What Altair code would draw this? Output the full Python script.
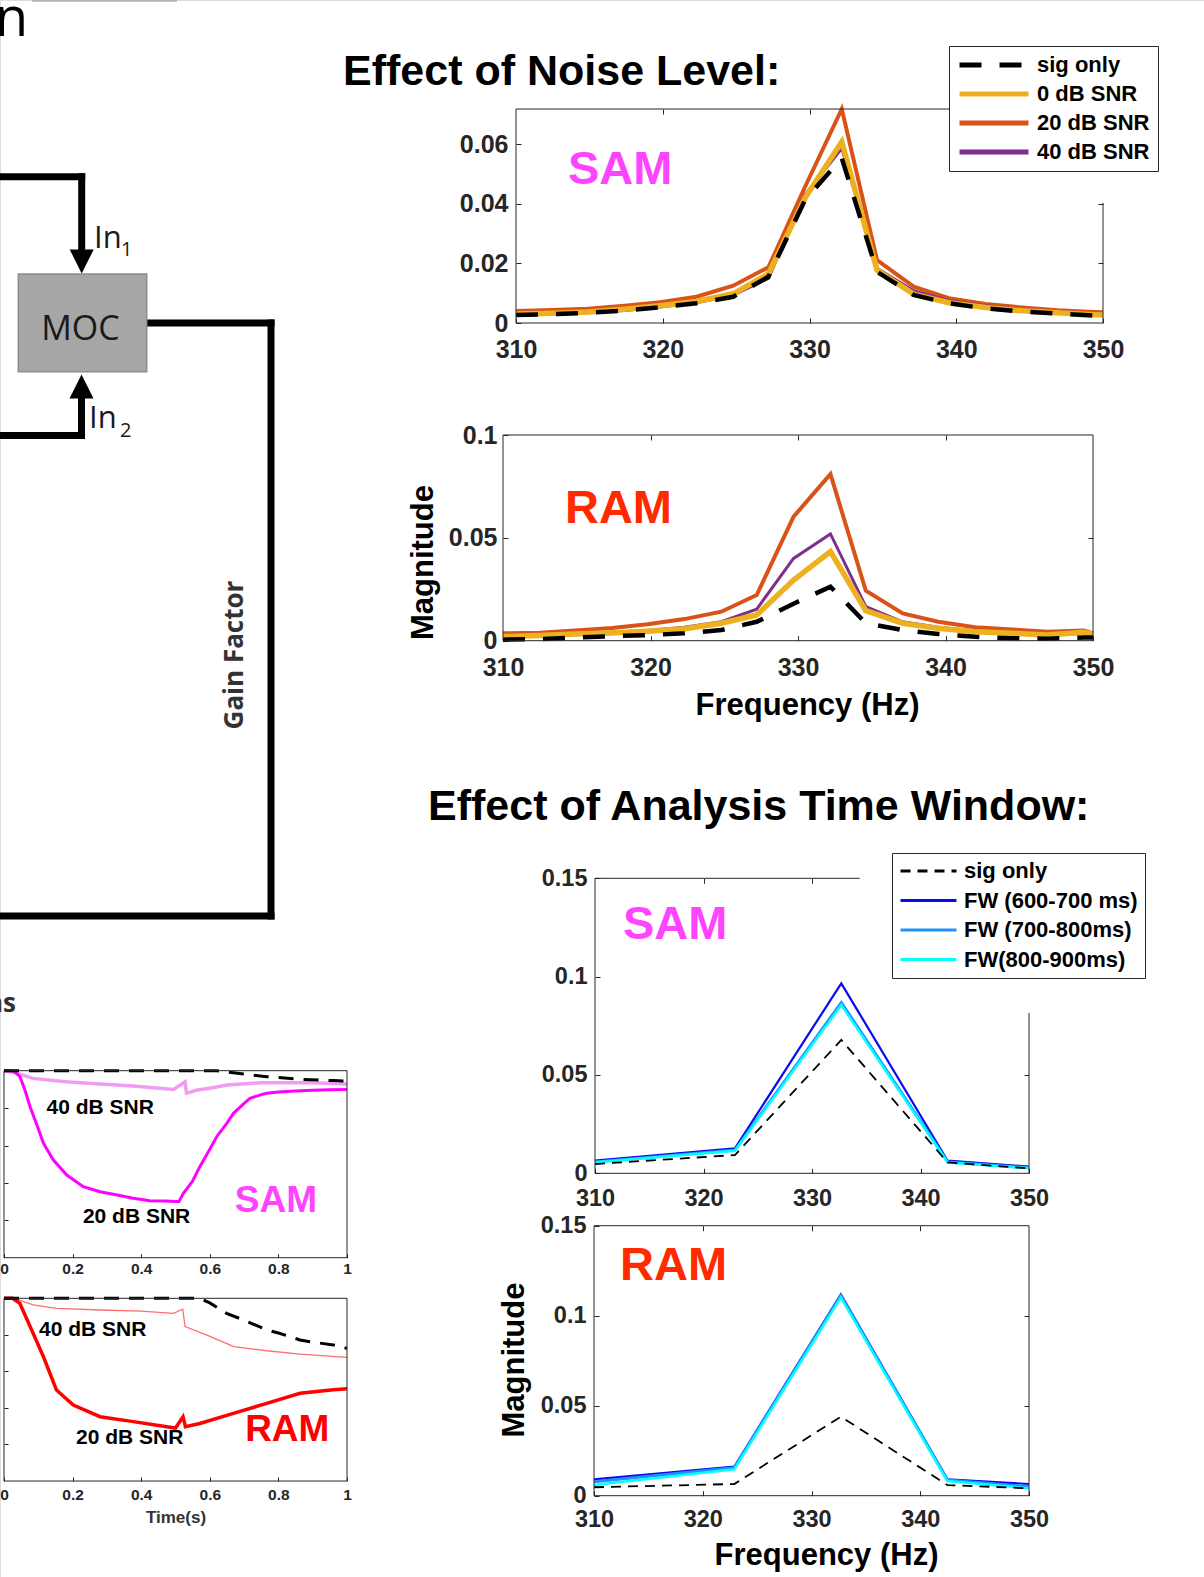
import altair as alt
import pandas as pd

W, H = 1204, 1577
AX = '#262626'
FONT = 'Liberation Sans'
DFONT = 'Open Sans'

# ---------------- Effect of Noise Level ----------------
FREQ_NOISE = [310.0, 312.5, 314.9, 317.4, 319.8, 322.3, 324.8, 327.2, 329.7,
              332.2, 334.6, 337.1, 339.5, 342.0, 344.5, 346.9, 349.4, 350.0]
NOISE_NAMES = ['sig only', '0 dB SNR', '20 dB SNR', '40 dB SNR']

SAM_SIG = [0.0027, 0.0030, 0.0034, 0.0042, 0.0053, 0.0066, 0.0088, 0.0155, 0.0413,
           0.0553, 0.0172, 0.0094, 0.0066, 0.0049, 0.0038, 0.0032, 0.0025, 0.0024]
SAM_0DB = [0.0030, 0.0033, 0.0037, 0.0046, 0.0058, 0.0072, 0.0098, 0.0165, 0.0420,
           0.0608, 0.0178, 0.0097, 0.0068, 0.0052, 0.0041, 0.0034, 0.0028, 0.0027]
SAM_20DB = [0.0040, 0.0044, 0.0048, 0.0058, 0.0070, 0.0088, 0.0125, 0.0187, 0.0457,
            0.0718, 0.0211, 0.0122, 0.0083, 0.0064, 0.0052, 0.0043, 0.0037, 0.0036]
SAM_40DB = [0.0026, 0.0030, 0.0034, 0.0042, 0.0054, 0.0068, 0.0094, 0.0150, 0.0430,
            0.0586, 0.0184, 0.0108, 0.0075, 0.0058, 0.0045, 0.0038, 0.0031, 0.0030]

RAM_SIG = [0.0005, 0.0008, 0.0016, 0.0022, 0.0027, 0.0036, 0.0052, 0.0092, 0.0180,
           0.0263, 0.0085, 0.0052, 0.0033, 0.0019, 0.0012, 0.0010, 0.0016, 0.0015]
RAM_0DB = [0.0020, 0.0025, 0.0033, 0.0038, 0.0046, 0.0058, 0.0085, 0.0125, 0.0295,
           0.0433, 0.0146, 0.0085, 0.0060, 0.0044, 0.0036, 0.0028, 0.0041, 0.0030]
RAM_20DB = [0.0036, 0.0039, 0.0050, 0.0062, 0.0080, 0.0105, 0.0141, 0.0222, 0.0603,
            0.0810, 0.0243, 0.0133, 0.0092, 0.0065, 0.0055, 0.0044, 0.0049, 0.0036]
RAM_40DB = [0.0024, 0.0027, 0.0035, 0.0041, 0.0050, 0.0065, 0.0092, 0.0153, 0.0400,
            0.0519, 0.0166, 0.0092, 0.0066, 0.0048, 0.0038, 0.0030, 0.0035, 0.0022]

# ---------------- Effect of Analysis Time Window ----------------
FREQ_WIN = [310.0, 322.9, 332.7, 342.5, 350.0]
WIN_NAMES = ['sig only', 'FW (600-700 ms)', 'FW (700-800ms)', 'FW(800-900ms)']

WSAM_SIG = [0.0047, 0.0093, 0.0678, 0.0055, 0.0025]
WSAM_FW1 = [0.0064, 0.0127, 0.0966, 0.0064, 0.0034]
WSAM_FW2 = [0.0058, 0.0118, 0.0868, 0.0058, 0.0028]
WSAM_FW3 = [0.0056, 0.0115, 0.0856, 0.0055, 0.0026]

WRAM_SIG = [0.0047, 0.0065, 0.0439, 0.0059, 0.0041]
WRAM_FW1 = [0.0091, 0.0161, 0.1119, 0.0091, 0.0065]
WRAM_FW2 = [0.0078, 0.0156, 0.1111, 0.0087, 0.0050]
WRAM_FW3 = [0.0059, 0.0147, 0.1102, 0.0081, 0.0041]

# ---------------- Gain factor over time ----------------
E_T_20 = [0.0, 0.02, 0.03, 0.046, 0.061, 0.076, 0.1, 0.115, 0.144, 0.183, 0.231, 0.28,
          0.33, 0.377, 0.425, 0.47, 0.5, 0.51, 0.523, 0.55, 0.571, 0.6, 0.62, 0.65,
          0.669, 0.7, 0.717, 0.75, 0.766, 0.8, 0.85, 0.9, 0.95, 1.0]
E_V_20 = [1.0, 1.0, 0.995, 0.97, 0.897, 0.807, 0.69, 0.612, 0.522, 0.442, 0.38, 0.353,
          0.335, 0.318, 0.305, 0.303, 0.30, 0.30, 0.344, 0.41, 0.487, 0.58, 0.647, 0.72,
          0.772, 0.825, 0.852, 0.872, 0.879, 0.886, 0.892, 0.896, 0.898, 0.90]
E_T_40 = [0.0, 0.03, 0.085, 0.18, 0.28, 0.377, 0.494, 0.528, 0.532, 0.56, 0.6, 0.65, 0.75, 0.9, 1.0]
E_V_40 = [1.0, 0.99, 0.959, 0.941, 0.929, 0.918, 0.90, 0.941, 0.879, 0.895, 0.906, 0.924, 0.936, 0.936, 0.929]
E_T_SIG = [0.0, 0.62, 0.669, 0.766, 0.863, 0.96, 1.0]
E_V_SIG = [1.0, 1.0, 0.989, 0.968, 0.954, 0.947, 0.945]

F_T_20 = [0.0, 0.025, 0.046, 0.085, 0.115, 0.153, 0.202, 0.28, 0.377, 0.474, 0.5, 0.522,
          0.529, 0.571, 0.669, 0.766, 0.863, 0.96, 1.0]
F_V_20 = [1.0, 1.0, 0.973, 0.808, 0.68, 0.498, 0.416, 0.352, 0.325, 0.297, 0.29, 0.352,
          0.297, 0.315, 0.37, 0.425, 0.48, 0.50, 0.505]
F_T_40 = [0.0, 0.03, 0.085, 0.153, 0.28, 0.4, 0.494, 0.521, 0.528, 0.59, 0.67, 0.766, 0.863, 1.0]
F_V_40 = [1.0, 1.0, 0.964, 0.945, 0.936, 0.93, 0.918, 0.94, 0.845, 0.80, 0.735, 0.713, 0.695, 0.677]
F_T_SIG = [0.0, 0.57, 0.6, 0.649, 0.7, 0.766, 0.8, 0.863, 0.9, 0.96, 1.0]
F_V_SIG = [1.0, 1.0, 0.975, 0.918, 0.88, 0.827, 0.81, 0.772, 0.76, 0.745, 0.726]

# ---------------- schematic (diagram) ----------------
DIAGRAM_WIRES = [(-10, 176.7, 81.7, 176.7), (81.7, 176.7, 81.7, 251),
                 (146.7, 323, 271, 323), (271, 323, 271, 916), (271, 916, -10, 916),
                 (-10, 435.5, 81.5, 435.5), (81.5, 435.5, 81.5, 397)]
MOC_BOX = [(18.3, 274, 146.7, 371.7)]
ARROW_DOWN = [(81.7, 261.5)]
ARROW_UP = [(81.5, 386.5)]

# ---------------- styles ----------------
NOISE_STYLE = {'sig only': dict(c='#000000', w=4.5, d=[22, 18]),
               '0 dB SNR': dict(c='#EDB120', w=5.5),
               '20 dB SNR': dict(c='#D95319', w=4),
               '40 dB SNR': dict(c='#7E2F8E', w=3)}
NOISE_ORDER = ['20 dB SNR', '40 dB SNR', '0 dB SNR', 'sig only']
WIN_STYLE = {'sig only': dict(c='#000000', w=1.8, d=[10, 7]),
             'FW (600-700 ms)': dict(c='#0A0AF0', w=2.2),
             'FW (700-800ms)': dict(c='#1E90FF', w=3),
             'FW(800-900ms)': dict(c='#00FFFF', w=2.5)}
WIN_ORDER = ['FW (600-700 ms)', 'FW (700-800ms)', 'FW(800-900ms)', 'sig only']

NUM_LABEL = "format(datum.value, '.2~f')"


def mk_axis(orient, values, offset, ts, labels=True, fs=None, pad=None, expr=None, **extra):
    d = dict(orient=orient, values=values, offset=offset, tickSize=ts, ticks=True,
             tickColor=AX, tickWidth=1, domain=False, grid=False, labels=labels, title=None)
    if labels:
        d.update(labelFont=FONT, labelFontSize=fs, labelFontWeight='bold',
                 labelColor=AX, labelPadding=pad, labelFlush=False, labelOverlap=False,
                 labelExpr=expr or NUM_LABEL)
    d.update(extra)
    return alt.Axis(**d)


def offsets(xr, yr, ts):
    return dict(b=(yr[0] - ts) - H, l=-(xr[0] + ts), t=-(yr[1] + ts), r=(xr[1] - ts) - W)


def legend(x, y, pad, rowpad, symlen, symw):
    return alt.Legend(orient='none', legendX=x, legendY=y, title=None, padding=pad,
                      rowPadding=rowpad, clipHeight=22, symbolType='stroke',
                      symbolSize=symlen * symlen, symbolStrokeWidth=symw,
                      labelFont=FONT, labelFontSize=22, labelFontWeight='bold',
                      labelColor='black', labelOffset=6, labelLimit=400,
                      strokeColor=AX, fillColor='white')


def panel(xdom, xr, ydom, yr, series, names, styles, order, leg,
          ax_b, ax_l, ax_t, ax_r, frame, texts):
    xsc = alt.Scale(domain=xdom, range=xr, nice=False, zero=False)
    ysc = alt.Scale(domain=ydom, range=yr, nice=False, zero=False)
    out = []
    for i, name in enumerate(order):
        xs, ys = series[name]
        df = pd.DataFrame({'x': xs, 'y': ys, 's': name})
        st = styles[name]
        x = alt.X('x:Q', scale=xsc, axis=ax_b if i == 0 else None)
        y = alt.Y('y:Q', scale=ysc, axis=ax_l if i == 0 else None)
        if leg is not None and i == len(order) - 1:
            ch = alt.Chart(df).mark_line(strokeWidth=st['w'], strokeCap='butt').encode(
                x=x, y=y,
                color=alt.Color('s:N', scale=alt.Scale(domain=names, range=[styles[n]['c'] for n in names]),
                                legend=leg),
                strokeDash=alt.StrokeDash('s:N', scale=alt.Scale(domain=names,
                                          range=[styles[n].get('d', [1, 0]) for n in names]),
                                          legend=leg))
        else:
            mk = dict(strokeWidth=st['w'], color=st['c'], strokeCap='butt')
            if 'd' in st:
                mk['strokeDash'] = st['d']
            ch = alt.Chart(df).mark_line(**mk).encode(x=x, y=y)
        out.append(ch)
    fdf = pd.DataFrame(frame, columns=['x', 'y', 'x2', 'y2'])
    out.append(alt.Chart(fdf).mark_rule(color=AX, strokeWidth=1).encode(
        x=alt.X('x:Q', scale=xsc, axis=ax_t), x2='x2:Q',
        y=alt.Y('y:Q', scale=ysc, axis=ax_r), y2='y2:Q'))
    for t in texts:
        df = pd.DataFrame({'x': [t['x']], 'y': [t['y']], 't': [t['t']]})
        out.append(alt.Chart(df).mark_text(align='left', baseline='middle', font=FONT,
                                           fontWeight='bold', fontSize=t['fs'], color=t['c']).encode(
            x=alt.X('x:Q', scale=xsc, axis=None), y=alt.Y('y:Q', scale=ysc, axis=None), text='t:N'))
    return out


layers = []

# ---------- schematic in page pixels ----------
def pix(df, mark):
    return alt.Chart(df).mark_text(**mark).encode(
        x=alt.X('x:Q', scale=None, axis=None), y=alt.Y('y:Q', scale=None, axis=None), text='t:N')

wires = pd.DataFrame(DIAGRAM_WIRES, columns=['x', 'y', 'x2', 'y2'])
layers.append(alt.Chart(wires).mark_rule(color='black', strokeWidth=7, strokeCap='square').encode(
    x=alt.X('x:Q', scale=None, axis=None), x2='x2:Q', y=alt.Y('y:Q', scale=None, axis=None), y2='y2:Q'))
topbar = pd.DataFrame([(32, 0.8, 177, 0.8)], columns=['x', 'y', 'x2', 'y2'])
layers.append(alt.Chart(topbar).mark_rule(color='#b4b4b4', strokeWidth=2).encode(
    x=alt.X('x:Q', scale=None, axis=None), x2='x2:Q', y=alt.Y('y:Q', scale=None, axis=None), y2='y2:Q'))
box = pd.DataFrame(MOC_BOX, columns=['x', 'y', 'x2', 'y2'])
layers.append(alt.Chart(box).mark_rect(color='#A6A6A6', stroke='#8C8C8C', strokeWidth=1.5).encode(
    x=alt.X('x:Q', scale=None, axis=None), x2='x2:Q', y=alt.Y('y:Q', scale=None, axis=None), y2='y2:Q'))
for pts, shp in [(ARROW_DOWN, 'M-1,-1L1,-1L0,1Z'), (ARROW_UP, 'M-1,1L1,1L0,-1Z')]:
    layers.append(alt.Chart(pd.DataFrame(pts, columns=['x', 'y'])).mark_point(
        shape=shp, size=576, filled=True, opacity=1, color='black', strokeWidth=0).encode(
        x=alt.X('x:Q', scale=None, axis=None), y=alt.Y('y:Q', scale=None, axis=None)))

layers.append(pix(pd.DataFrame({'t': ['MOC'], 'x': [80.5], 'y': [340]}),
                  dict(font=DFONT, fontSize=34, color='#1a1a1a', align='center', baseline='alphabetic')))
layers.append(pix(pd.DataFrame({'t': ['In', 'In'], 'x': [94, 89], 'y': [248.3, 428.3]}),
                  dict(font=DFONT, fontSize=31, color='#1a1a1a', align='left', baseline='alphabetic')))
layers.append(pix(pd.DataFrame({'t': ['1', '2'], 'x': [121, 120], 'y': [256, 436.7]}),
                  dict(font=DFONT, fontSize=20, color='#1a1a1a', align='left', baseline='alphabetic')))
layers.append(pix(pd.DataFrame({'t': ['Gain Factor'], 'x': [243], 'y': [655]}),
                  dict(font=DFONT, fontSize=26, fontWeight='bold', color='#333333', align='center',
                       baseline='alphabetic', angle=270)))
layers.append(pix(pd.DataFrame({'t': ['n'], 'x': [28], 'y': [36]}),
                  dict(font=DFONT, fontSize=54, color='black', align='right', baseline='alphabetic')))
layers.append(pix(pd.DataFrame({'t': ['ns'], 'x': [16], 'y': [1012]}),
                  dict(font=DFONT, fontSize=26, fontWeight='bold', color='#333333', align='right',
                       baseline='alphabetic')))
layers.append(pix(pd.DataFrame({'t': ['Effect of Noise Level:', 'Effect of Analysis Time Window:'],
                                'x': [343, 428], 'y': [85, 819.5]}),
                  dict(font=FONT, fontSize=43, fontWeight='bold', color='black', align='left',
                       baseline='alphabetic')))

# ---------- Panel A: noise, SAM ----------
xr, yr, ts = [516, 1103], [323, 109], 5
o = offsets(xr, yr, ts)
layers += panel([310, 350], xr, [0, 0.0718], yr,
                {'sig only': (FREQ_NOISE, SAM_SIG), '0 dB SNR': (FREQ_NOISE, SAM_0DB),
                 '20 dB SNR': (FREQ_NOISE, SAM_20DB), '40 dB SNR': (FREQ_NOISE, SAM_40DB)},
                NOISE_NAMES, NOISE_STYLE, NOISE_ORDER, legend(949, 46, 8, 7, 69, 5),
                mk_axis('bottom', [310, 320, 330, 340, 350], o['b'], ts, fs=25, pad=14),
                mk_axis('left', [0, 0.02, 0.04, 0.06], o['l'], ts, fs=25, pad=8),
                mk_axis('top', [320, 330], o['t'], ts, labels=False),
                mk_axis('right', [0.02, 0.04], o['r'], ts, labels=False),
                [(310, 0, 350, 0), (310, 0, 310, 0.0718), (310, 0.0718, 341.5, 0.0718), (350, 0, 350, 0.0403)],
                [dict(t='SAM', x=313.54, y=0.0513, fs=47, c='#FF44FF')])

# ---------- Panel B: noise, RAM ----------
xr, yr = [503, 1093], [640.7, 435]
o = offsets(xr, yr, ts)
layers += panel([310, 350], xr, [0, 0.1], yr,
                {'sig only': (FREQ_NOISE, RAM_SIG), '0 dB SNR': (FREQ_NOISE, RAM_0DB),
                 '20 dB SNR': (FREQ_NOISE, RAM_20DB), '40 dB SNR': (FREQ_NOISE, RAM_40DB)},
                NOISE_NAMES, NOISE_STYLE, NOISE_ORDER, None,
                mk_axis('bottom', [310, 320, 330, 340, 350], o['b'], ts, fs=25, pad=15,
                        title='Frequency (Hz)', titleFont=FONT, titleFontSize=31, titleFontWeight='bold',
                        titleColor='black', titleX=807, titleY=78.3, titleAlign='center',
                        titleBaseline='alphabetic'),
                mk_axis('left', [0, 0.05, 0.1], o['l'], ts, fs=25, pad=6,
                        title='Magnitude', titleFont=FONT, titleFontSize=31, titleFontWeight='bold',
                        titleColor='black', titleAngle=270, titleX=-76, titleY=562, titleAlign='center',
                        titleBaseline='alphabetic'),
                mk_axis('top', [320, 330, 340], o['t'], ts, labels=False),
                mk_axis('right', [0.05], o['r'], ts, labels=False),
                [(310, 0, 350, 0), (310, 0, 310, 0.1), (310, 0.1, 350, 0.1), (350, 0, 350, 0.1)],
                [dict(t='RAM', x=314.2, y=0.064, fs=47, c='#FF2A00')])

# ---------- Panel C: window, SAM ----------
xr, yr = [595, 1029], [1173.3, 878.3]
o = offsets(xr, yr, ts)
layers += panel([310, 350], xr, [0, 0.15], yr,
                {'sig only': (FREQ_WIN, WSAM_SIG), 'FW (600-700 ms)': (FREQ_WIN, WSAM_FW1),
                 'FW (700-800ms)': (FREQ_WIN, WSAM_FW2), 'FW(800-900ms)': (FREQ_WIN, WSAM_FW3)},
                WIN_NAMES, WIN_STYLE, WIN_ORDER, legend(892, 853, 7, 7.5, 56, 3),
                mk_axis('bottom', [310, 320, 330, 340, 350], o['b'], ts, fs=23.5, pad=13),
                mk_axis('left', [0, 0.05, 0.1, 0.15], o['l'], ts, fs=23.5, pad=8),
                mk_axis('top', [320, 330], o['t'], ts, labels=False),
                mk_axis('right', [0.05], o['r'], ts, labels=False),
                [(310, 0, 350, 0), (310, 0, 310, 0.15), (310, 0.15, 334.4, 0.15), (350, 0, 350, 0.0815)],
                [dict(t='SAM', x=312.58, y=0.1263, fs=47, c='#FF44FF')])

# ---------- Panel D: window, RAM ----------
xr, yr = [594, 1029], [1495.7, 1225.7]
o = offsets(xr, yr, ts)
layers += panel([310, 350], xr, [0, 0.15], yr,
                {'sig only': (FREQ_WIN, WRAM_SIG), 'FW (600-700 ms)': (FREQ_WIN, WRAM_FW1),
                 'FW (700-800ms)': (FREQ_WIN, WRAM_FW2), 'FW(800-900ms)': (FREQ_WIN, WRAM_FW3)},
                WIN_NAMES, WIN_STYLE, WIN_ORDER, None,
                mk_axis('bottom', [310, 320, 330, 340, 350], o['b'], ts, fs=23.5, pad=11.5,
                        title='Frequency (Hz)', titleFont=FONT, titleFontSize=31, titleFontWeight='bold',
                        titleColor='black', titleX=826, titleY=73.3, titleAlign='center',
                        titleBaseline='alphabetic'),
                mk_axis('left', [0, 0.05, 0.1, 0.15], o['l'], ts, fs=23.5, pad=8,
                        title='Magnitude', titleFont=FONT, titleFontSize=31, titleFontWeight='bold',
                        titleColor='black', titleAngle=270, titleX=-76, titleY=1359.5, titleAlign='center',
                        titleBaseline='alphabetic'),
                mk_axis('top', [320, 330, 340], o['t'], ts, labels=False),
                mk_axis('right', [0.05, 0.1], o['r'], ts, labels=False),
                [(310, 0, 350, 0), (310, 0, 310, 0.15), (310, 0.15, 350, 0.15), (350, 0, 350, 0.15)],
                [dict(t='RAM', x=312.39, y=0.1276, fs=47, c='#FF2A00')])

# ---------- Panels E / F: gain factor vs time ----------
TIME_STYLE_E = {'sig only': dict(c='#000000', w=3, d=[15, 10]),
                '40 dB SNR': dict(c='#F29BF2', w=3.5),
                '20 dB SNR': dict(c='#FF00FF', w=3)}
TIME_STYLE_F = {'sig only': dict(c='#000000', w=3, d=[15, 10]),
                '40 dB SNR': dict(c='#FF6E6E', w=1.3),
                '20 dB SNR': dict(c='#FF0000', w=3.5)}
TIME_ORDER = ['40 dB SNR', '20 dB SNR', 'sig only']
tts = 4
xr, yr = [4, 347], [1257.7, 1070.7]
o = offsets(xr, yr, tts)
layers += panel([0, 1], xr, [0, 1], yr,
                {'sig only': (E_T_SIG, E_V_SIG), '40 dB SNR': (E_T_40, E_V_40), '20 dB SNR': (E_T_20, E_V_20)},
                None, TIME_STYLE_E, TIME_ORDER, None,
                mk_axis('bottom', [0, 0.2, 0.4, 0.6, 0.8, 1], o['b'], tts, fs=15.5, pad=3.3),
                mk_axis('left', [0.2, 0.4, 0.6, 0.8], o['l'], tts, labels=False),
                None, None,
                [(0, 0, 1, 0), (0, 0, 0, 1), (0, 1, 1, 1), (1, 0, 1, 1)],
                [dict(t='40 dB SNR', x=0.124, y=0.80, fs=21, c='black'),
                 dict(t='20 dB SNR', x=0.23, y=0.215, fs=21, c='black'),
                 dict(t='SAM', x=0.673, y=0.303, fs=37, c='#FF44FF')])

xr, yr = [4, 347], [1481, 1298.3]
o = offsets(xr, yr, tts)
layers += panel([0, 1], xr, [0, 1], yr,
                {'sig only': (F_T_SIG, F_V_SIG), '40 dB SNR': (F_T_40, F_V_40), '20 dB SNR': (F_T_20, F_V_20)},
                None, TIME_STYLE_F, TIME_ORDER, None,
                mk_axis('bottom', [0, 0.2, 0.4, 0.6, 0.8, 1], o['b'], tts, fs=15.5, pad=6,
                        title='Time(s)', titleFont=FONT, titleFontSize=17, titleFontWeight='bold',
                        titleColor='#333333', titleX=175.5, titleY=45, titleAlign='center',
                        titleBaseline='alphabetic'),
                mk_axis('left', [0.2, 0.4, 0.6, 0.8], o['l'], tts, labels=False),
                None, None,
                [(0, 0, 1, 0), (0, 0, 0, 1), (0, 1, 1, 1), (1, 0, 1, 1)],
                [dict(t='40 dB SNR', x=0.102, y=0.824, fs=21, c='black'),
                 dict(t='20 dB SNR', x=0.21, y=0.233, fs=21, c='black'),
                 dict(t='RAM', x=0.703, y=0.279, fs=37, c='#FF0000')])

chart = alt.layer(*layers).resolve_scale(
    x='independent', y='independent', color='independent', strokeDash='independent'
).resolve_axis(x='independent', y='independent').resolve_legend(
    color='independent', strokeDash='independent'
).properties(
    width=W, height=H, padding=0, autosize=alt.AutoSizeParams(type='none')
).configure_view(stroke=None).configure(background='white')

chart.save('out.html', embed_options={'renderer': 'svg', 'actions': False})
